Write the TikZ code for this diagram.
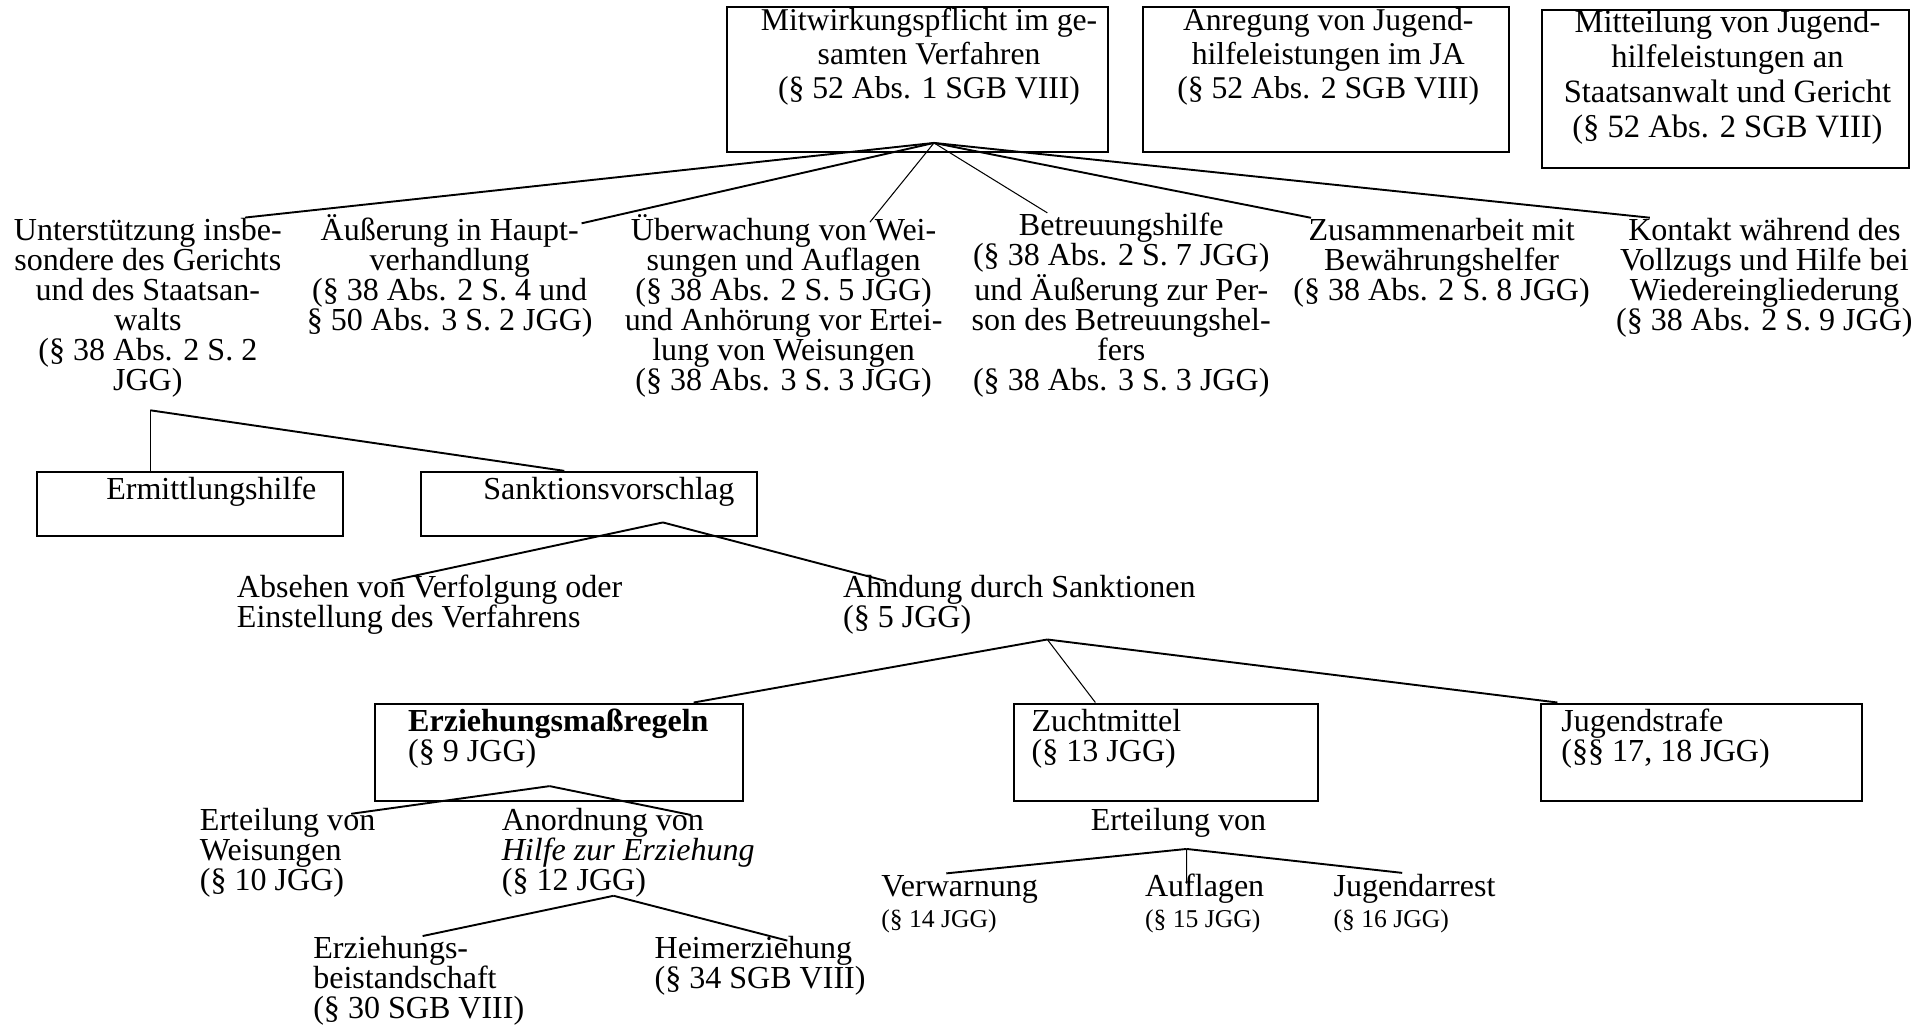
\documentclass[tikz,border=0pt]{standalone}
\usepackage{fontspec}
\setmainfont{Liberation Serif}
\usepackage{tikz}
\usetikzlibrary{positioning}

\newcommand{\kleinref}[1]{{\fontsize{14.8}{17.4}\selectfont #1}}

\begin{document}
\begin{tikzpicture}[
        box/.style={rectangle, draw, line width=1.2pt, inner sep=0pt},
        txt/.style={inner sep=0pt, font=\fontsize{18.5}{17.4}\selectfont},
        toptxt/.style={txt, align=center, anchor=base, font=\fontsize{18.3}{19.7}\selectfont},
        midtxt/.style={txt, align=center, anchor=base},
        lefttxt/.style={txt, align=left, anchor=base west},
        conn/.style={line width=1.1pt},
        fineline/.style={line width=0.6pt}
    ]
        \useasboundingbox (0,0) rectangle (39.2,-20.875);

        % Top row boxes (text nodes sit on the baseline of their last line)
        \node[box, minimum width=7.725cm, minimum height=2.925cm] (mitw) at (18.6125,-1.6125) {};
        \node[box, minimum width=7.425cm, minimum height=2.925cm] (anreg) at (26.9125,-1.6125) {};
        \node[box, minimum width=7.445cm, minimum height=3.2cm] (mitteil) at (35.01,-1.8) {};
        \node[toptxt] (mitwtxt) at (18.85,-1.9975) {Mitwirkungspflicht im ge-\\samten Verfahren\\(§ 52 Abs. 1 SGB VIII)};
        \node[toptxt] (anregtxt) at (26.95,-1.9975) {Anregung von Jugend-\\hilfeleistungen im JA\\(§ 52 Abs. 2 SGB VIII)};
        \node[toptxt, font=\fontsize{18.8}{20.2}\selectfont] (mitteiltxt) at (35.05,-2.78) {Mitteilung von Jugend-\\hilfeleistungen an\\Staatsanwalt und Gericht\\(§ 52 Abs. 2 SGB VIII)};

        % Tasks in the proceedings
        \node[midtxt] (unterst) at (3.0,-7.93) {Unterstützung insbe-\\sondere des Gerichts\\und des Staatsan-\\walts\\(§ 38 Abs. 2 S. 2\\JGG)};
        \node[midtxt] (aeuss) at (9.125,-6.71) {Äußerung in Haupt-\\verhandlung\\(§ 38 Abs. 2 S. 4 und\\§ 50 Abs. 3 S. 2 JGG)};
        \node[midtxt] (ueberw) at (15.9,-7.93) {Überwachung von Wei-\\sungen und Auflagen\\(§ 38 Abs. 2 S. 5 JGG)\\und Anhörung vor Ertei-\\lung von Weisungen\\(§ 38 Abs. 3 S. 3 JGG)};
        \node[midtxt] (betreu) at (22.75,-7.93) {Betreuungshilfe\\(§ 38 Abs. 2 S. 7 JGG)\\und Äußerung zur Per-\\son des Betreuungshel-\\fers\\(§ 38 Abs. 3 S. 3 JGG)};
        \node[midtxt] (zusamm) at (29.25,-6.10) {Zusammenarbeit mit\\Bewährungshelfer\\(§ 38 Abs. 2 S. 8 JGG)};
        \node[midtxt] (kontakt) at (35.8,-6.71) {Kontakt während des\\Vollzugs und Hilfe bei\\Wiedereingliederung\\(§ 38 Abs. 2 S. 9 JGG)};

        % Ermittlungshilfe and Sanktionsvorschlag
        \node[box, minimum width=6.2cm, minimum height=1.3cm] (ermitt) at (3.85,-10.225) {};
        \node[box, minimum width=6.8cm, minimum height=1.3cm] (sankt) at (11.95,-10.225) {};
        \node[lefttxt] (ermitttxt) at (2.15,-10.125) {Ermittlungshilfe};
        \node[lefttxt] (sankttxt) at (9.8,-10.125) {Sanktionsvorschlag};

        % Outcomes of the proposal
        \node[lefttxt] (absehen) at (4.8,-12.737) {Absehen von Verfolgung oder\\Einstellung des Verfahrens};
        \node[lefttxt] (ahndung) at (17.1,-12.737) {Ahndung durch Sanktionen\\(§ 5 JGG)};

        % Sanctions
        \node[box, minimum width=7.475cm, minimum height=1.975cm] (erz) at (11.3375,-15.2625) {};
        \node[box, minimum width=6.175cm, minimum height=1.975cm] (zucht) at (23.6625,-15.2625) {};
        \node[box, minimum width=6.5cm, minimum height=1.975cm] (jugend) at (34.525,-15.2625) {};
        \node[lefttxt] (erztxt) at (8.275,-15.46) {\textbf{Erziehungsmaßregeln}\\(§ 9 JGG)};
        \node[lefttxt] (zuchttxt) at (20.925,-15.46) {Zuchtmittel\\(§ 13 JGG)};
        \node[lefttxt] (jugendtxt) at (31.675,-15.46) {Jugendstrafe\\(§§ 17, 18 JGG)};

        % Measures below the sanctions
        \node[lefttxt] (weis) at (4.05,-18.073) {Erteilung von\\Weisungen\\(§ 10 JGG)};
        \node[lefttxt] (anord) at (10.175,-18.073) {Anordnung von\\\textit{Hilfe zur Erziehung}\\(§ 12 JGG)};
        \node[lefttxt] (ertvon) at (22.125,-16.85) {Erteilung von};
        \node[lefttxt] (verw) at (17.875,-18.81) {Verwarnung\\\kleinref{(§ 14 JGG)}};
        \node[lefttxt] (aufl) at (23.225,-18.81) {Auflagen\\\kleinref{(§ 15 JGG)}};
        \node[lefttxt] (arrest) at (27.05,-18.81) {Jugendarrest\\\kleinref{(§ 16 JGG)}};
        \node[lefttxt] (beist) at (6.35,-20.673) {Erziehungs-\\beistandschaft\\(§ 30 SGB VIII)};
        \node[lefttxt] (heim) at (13.275,-20.06) {Heimerziehung\\(§ 34 SGB VIII)};

        % Connections
        \coordinate (f1) at (18.95,-2.9);
        \draw[conn] (f1) -- ([xshift=1.975cm]unterst.north);
        \draw[conn] (f1) -- ([shift={(2.675,-0.19)}]aeuss.north);
        \draw[fineline] (f1) -- ([shift={(1.75,-0.17)}]ueberw.north);
        \draw[fineline] (f1) -- ([xshift=-1.5cm]betreu.north);
        \draw[conn] (f1) -- ([xshift=-2.65cm]zusamm.north);
        \draw[conn] (f1) -- ([xshift=-2.325cm]kontakt.north);

        \coordinate (j1) at (3.05,-8.325);
        \draw[fineline] (j1) -- (j1 |- ermitt.north);
        \draw[conn] (j1) -- ([xshift=-0.5cm]sankt.north);

        \coordinate (f2) at (13.45,-10.6);
        \draw[conn] (f2) -- ([shift={(3.15,-0.12)}]absehen.north west);
        \draw[conn] (f2) -- ([shift={(0.875,-0.12)}]ahndung.north west);

        \coordinate (f3) at (21.25,-12.975);
        \draw[conn] (f3) -- ([xshift=2.7375cm]erz.north);
        \draw[fineline] (f3) -- ([xshift=-1.4375cm]zucht.north);
        \draw[conn] (f3) -- ([xshift=-2.925cm]jugend.north);

        \coordinate (f4) at (11.15,-15.95);
        \draw[conn] (f4) -- ([shift={(3.075,-0.12)}]weis.north west);
        \draw[conn] (f4) -- ([shift={(3.85,-0.145)}]anord.north west);

        \coordinate (f5) at (12.45,-18.175);
        \draw[conn] (f5) -- ([xshift=2.225cm]beist.north west);
        \draw[conn] (f5) -- ([shift={(2.7,-0.094)}]heim.north west);

        \coordinate (f6) at (24.075,-17.225);
        \draw[conn] (f6) -- ([shift={(1.325,0.045)}]verw.north west);
        \draw[fineline] (f6) -- ([shift={(0.85,-0.194)}]aufl.north west);
        \draw[conn] (f6) -- ([shift={(1.4,0.03)}]arrest.north west);
    \end{tikzpicture}
\end{document}
